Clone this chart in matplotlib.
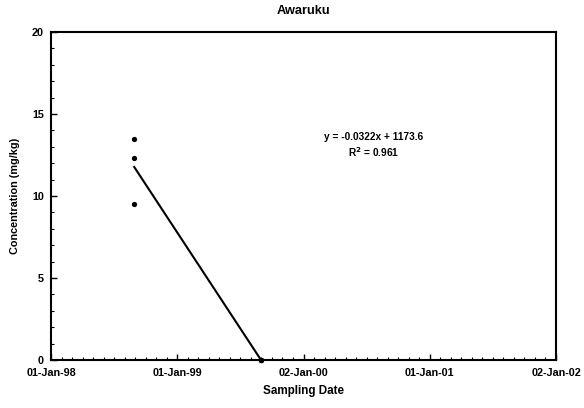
import datetime as dt

import matplotlib
matplotlib.use("Agg")
import matplotlib.pyplot as plt
import matplotlib.dates as mdates
import numpy as np
from matplotlib.ticker import FixedLocator, MultipleLocator

plt.rcParams['font.family'] = ['Liberation Sans', 'DejaVu Sans']
plt.rcParams['font.weight'] = 'bold'

# sampling data
sample_dates = [dt.date(1998, 8, 30)] * 3 + [dt.date(1999, 9, 1)] * 3
concentrations = [13.5, 12.3, 9.5, 0.0, 0.0, 0.0]

x_start = dt.date(1998, 1, 1)
x_end = dt.date(2002, 1, 2)
y_ticks = [0, 5, 10, 15, 20]

eq_text = "y = -0.0322x + 1173.6"
r2_text = "R$^2$ = 0.961"

x = mdates.date2num(sample_dates)
y = np.array(concentrations)

# linear trend over the sampled range
slope, intercept = np.polyfit(x, y, 1)
fit_x = np.array([x.min(), x.max()])
fit_y = slope * fit_x + intercept

fig = plt.figure(figsize=(5.84, 4.08), dpi=100)
ax = fig.add_axes([51 / 584, 1 - 360 / 408, (556 - 51) / 584, (360 - 32) / 408])

ax.plot(x, y, 'o', color='black', markersize=2.8, clip_on=False, zorder=3)
ax.plot(fit_x, fit_y, color='black', linewidth=1.5, clip_on=False)

x0 = mdates.date2num(x_start)
x1 = mdates.date2num(x_end)
ax.set_xlim(x0, x1)
ax.set_ylim(0, 20)

# Excel-like spacing: major every 365.5 days, minor about monthly
major = [x0 + k * 365.5 for k in range(5)]
minor = np.arange(x0, x1 + 0.1, 365.5 / 12)
ax.xaxis.set_major_locator(FixedLocator(major))
ax.xaxis.set_minor_locator(FixedLocator(minor))
ax.xaxis.set_major_formatter(mdates.DateFormatter('%d-%b-%y'))
ax.yaxis.set_major_locator(FixedLocator(y_ticks))
ax.yaxis.set_minor_locator(MultipleLocator(1))

ax.tick_params(which='major', direction='in', length=4, width=1, labelsize=7.8, pad=6)
ax.tick_params(which='minor', direction='in', length=2.5, width=0.8)
ax.tick_params(axis='y', which='major', pad=5)
for s in ax.spines.values():
    s.set_linewidth(1.5)

ax.set_xlabel("Sampling Date", fontsize=8.4, fontweight='bold', labelpad=5)
ax.set_ylabel("Concentration (mg/kg)", fontsize=7.8, fontweight='bold', labelpad=9)
ax.set_title("Awaruku", fontsize=9.2, fontweight='bold', pad=13)

ax.text(0.638, 0.681, eq_text, transform=ax.transAxes, ha='center', va='center',
        fontsize=7.3, fontweight='bold')
ax.text(0.638, 0.635, r2_text, transform=ax.transAxes, ha='center', va='center',
        fontsize=7.3, fontweight='bold')

fig.savefig("out.png", dpi=100)
